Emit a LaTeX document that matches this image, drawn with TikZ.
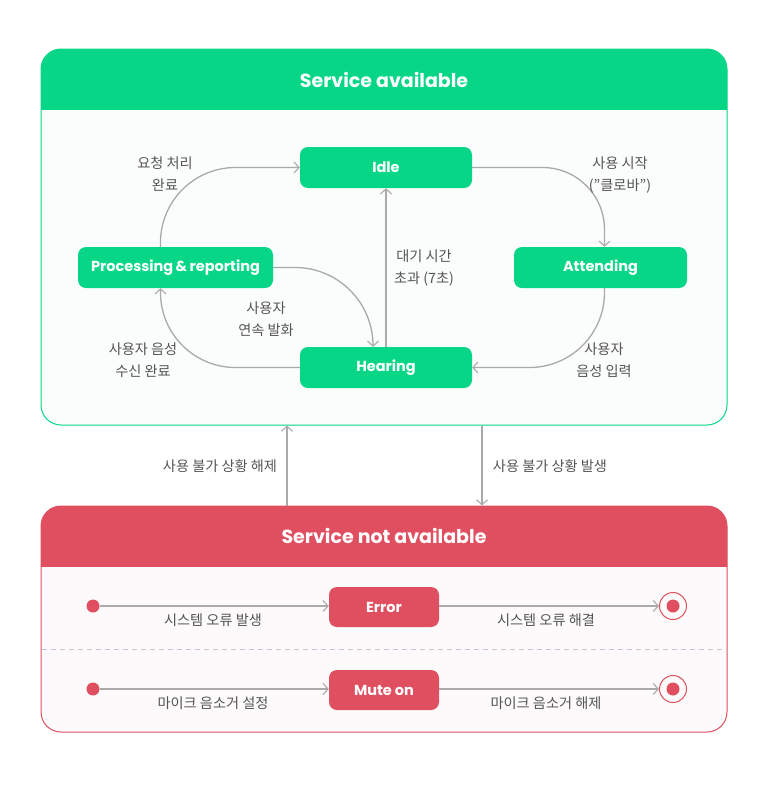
\documentclass[tikz,border=0pt]{standalone}
\usepackage{fontspec}
\setmainfont{Noto Sans CJK KR}
\newfontfamily\titlefont{Poppins}
\usetikzlibrary{arrows.meta}
\definecolor{G}{HTML}{06D686}
\definecolor{Gin}{HTML}{FAFDFB}
\definecolor{R}{HTML}{E04F5F}
\definecolor{Rin}{HTML}{FCFAFA}
\definecolor{txt}{HTML}{555555}
\definecolor{ln}{HTML}{AAAAAA}
\definecolor{dsh}{HTML}{C5C3D8}
\tikzset{
  stbox/.style={rounded corners=8pt, inner sep=0pt, minimum height=41pt, text=white, font=\titlefont\bfseries\fontsize{14.5}{16}\selectfont},
  gbox/.style={stbox, fill=G},
  rbox/.style={stbox, fill=R, minimum height=40pt},
  arr/.style={draw=ln, line width=1.3pt, -{Straight Barb[length=5pt,width=11pt,line width=1.1pt]}},
  lab/.style={text=txt, font=\fontsize{14.2}{22}\selectfont, align=center, inner sep=0pt},
  ttl/.style={text=white, font=\titlefont\bfseries\fontsize{19}{22}\selectfont},
}
\begin{document}
\begin{tikzpicture}[x=1pt,y=-1pt]
\useasboundingbox (0,0) rectangle (770,785);
% Service available box
\node[draw=G, line width=1pt, fill=Gin, rounded corners=20pt, minimum width=686pt, minimum height=376pt, inner sep=0pt] (avail) at (384,237) {};
\begin{scope}
\clip[rounded corners=20pt] (41,49) rectangle (727,425);
\fill[G] (40,48) rectangle (728,110);
\end{scope}
\node[ttl] (availt) at (384,80) {Service available};
% Service not available box
\node[draw=R, line width=1pt, fill=Rin, rounded corners=20pt, minimum width=686pt, minimum height=226pt, inner sep=0pt] (navail) at (384,619) {};
\begin{scope}
\clip[rounded corners=20pt] (41,506) rectangle (727,732);
\fill[R] (40,505) rectangle (728,567);
\end{scope}
\node[ttl] (navailt) at (384,536) {Service not available};
\draw[dsh, line width=1pt, dash pattern=on 5pt off 4pt] (41.5,649) -- (726.5,649);

% states
\node[gbox, minimum width=172pt] (idle) at (386,167.5) {Idle};
\node[gbox, minimum width=195pt] (proc) at (175.5,267.5) {Processing\,\&\,reporting};
\node[gbox, minimum width=173pt] (att) at (600.5,267.5) {Attending};
\node[gbox, minimum width=172pt] (hear) at (386,367.5) {Hearing};

% transitions
\draw[arr, rounded corners=62pt] (idle.east) -| ([xshift=4pt]att.north);
\draw[arr, rounded corners=75pt] ([xshift=4pt]att.south) |- (hear.east);
\draw[arr, rounded corners=75pt] (hear.west) -| ([xshift=-15pt]proc.south);
\draw[arr, rounded corners=75pt] ([xshift=-15pt]proc.north) |- (idle.west);
\draw[arr, rounded corners=78pt] (proc.east) -| ([xshift=-13pt]hear.north);
\draw[arr] (hear.north) -- (idle.south);

% labels
\node[lab] (l1) at (165,174) {요청 처리\\완료};
\node[lab] (l2) at (620,175) {사용 시작\\(”클로바”)};
\node[lab] (l3) at (424,268) {대기 시간\\초과 (7초)};
\node[lab] (l4) at (266,319) {사용자\\연속 발화};
\node[lab] (l5) at (143,360) {사용자 음성\\수신 완료};
\node[lab] (l6) at (604,360) {사용자\\음성 입력};

% between boxes
\coordinate (xu) at (287,0);
\coordinate (xd) at (482,0);
\draw[arr] (navail.north -| xu) -- (avail.south -| xu);
\draw[arr] (avail.south -| xd) -- (navail.north -| xd);
\node[lab] (l7) at (220,466) {사용 불가 상황 해제};
\node[lab] (l8) at (550,466) {사용 불가 상황 발생};

% error row
\node[rbox, minimum width=110pt] (err) at (384,607) {Error};
\node[circle, fill=R, inner sep=0pt, minimum size=13pt] (s1) at (93,606) {};
\node[circle, draw=R, line width=1pt, inner sep=0pt, minimum size=27pt] (e1) at (673,606) {};
\fill[R] (e1.center) circle (6.5pt);
\draw[arr] (s1) -- (s1 -| err.west);
\draw[arr] (err.east |- e1) -- (e1);
\node[lab] (l9) at (213,620) {시스템 오류 발생};
\node[lab] (l10) at (546,620) {시스템 오류 해결};

% mute row
\node[rbox, minimum width=110pt] (mute) at (384,690) {Mute on};
\node[circle, fill=R, inner sep=0pt, minimum size=13pt] (s2) at (93,689) {};
\node[circle, draw=R, line width=1pt, inner sep=0pt, minimum size=27pt] (e2) at (673,689) {};
\fill[R] (e2.center) circle (6.5pt);
\draw[arr] (s2) -- (s2 -| mute.west);
\draw[arr] (mute.east |- e2) -- (e2);
\node[lab] (l11) at (213,703) {마이크 음소거 설정};
\node[lab] (l12) at (546,703) {마이크 음소거 해제};
\end{tikzpicture}
\end{document}
